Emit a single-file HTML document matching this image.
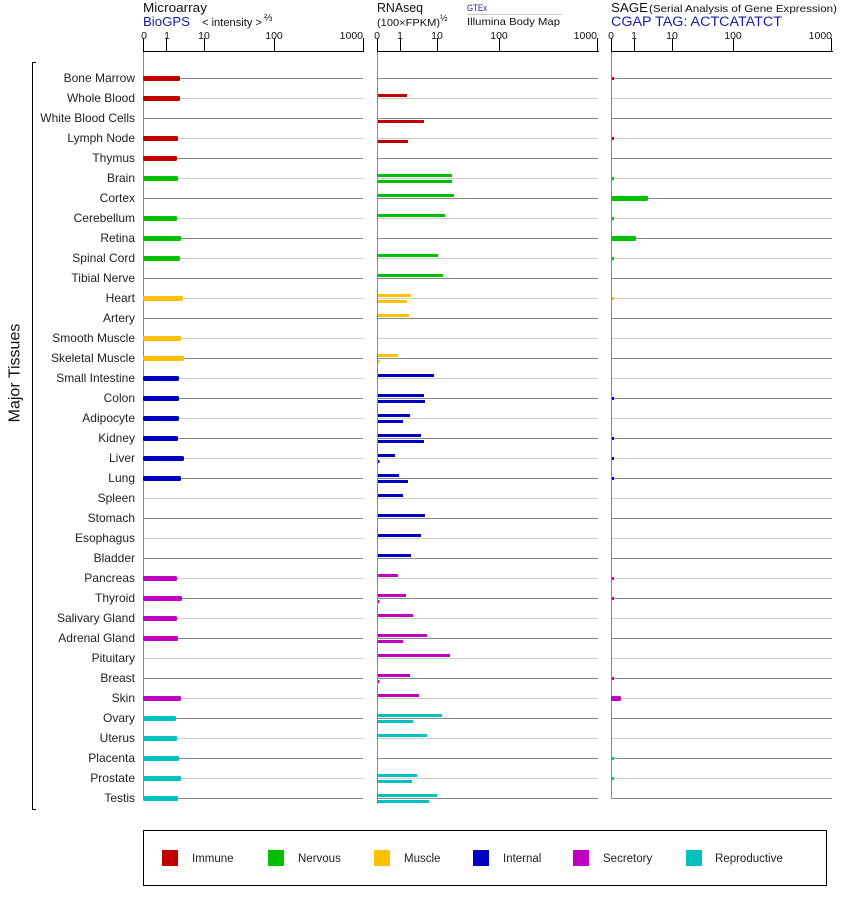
<!DOCTYPE html>
<html><head><meta charset="utf-8"><style>
html,body{margin:0;padding:0;background:#fff;}
svg{display:block;}
svg text{font-family:"Liberation Sans",Arial,sans-serif;}
</style></head><body>
<svg width="842" height="900" viewBox="0 0 842 900" xmlns="http://www.w3.org/2000/svg" font-family="Liberation Sans, Arial, sans-serif">
<rect width="842" height="900" fill="#fff"/>
<!-- Headers -->
<g font-family="Liberation Sans, Arial, sans-serif">
<text x="143" y="12" font-size="13" fill="#111" textLength="64" lengthAdjust="spacingAndGlyphs">Microarray</text>
<text x="143" y="26" font-size="13" fill="#1a1aa6" textLength="47" lengthAdjust="spacingAndGlyphs">BioGPS</text>
<text x="202" y="26" font-size="11" fill="#111" textLength="60" lengthAdjust="spacingAndGlyphs">&lt; intensity &gt;</text>
<text x="264" y="21" font-size="10" fill="#111">⅔</text>
<text x="377" y="12" font-size="13" fill="#111" textLength="46" lengthAdjust="spacingAndGlyphs">RNAseq</text>
<text x="377" y="26" font-size="10.5" fill="#111" textLength="63" lengthAdjust="spacingAndGlyphs">(100×FPKM)</text>
<text x="440" y="21" font-size="9" fill="#111">½</text>
<text x="467" y="11" font-size="9" fill="#1a1aa6" textLength="20" lengthAdjust="spacingAndGlyphs">GTEx</text>
<line x1="467" y1="14.5" x2="562" y2="14.5" stroke="#c8c8c8" stroke-width="1"/>
<text x="467" y="25" font-size="10.5" fill="#111" textLength="93" lengthAdjust="spacingAndGlyphs">Illumina Body Map</text>
<text x="611" y="12" font-size="13" fill="#111" textLength="37" lengthAdjust="spacingAndGlyphs">SAGE</text>
<text x="649" y="12" font-size="10.5" fill="#111" textLength="188" lengthAdjust="spacingAndGlyphs">(Serial Analysis of Gene Expression)</text>
<text x="611" y="26" font-size="13.5" fill="#1a1aa6" textLength="171" lengthAdjust="spacingAndGlyphs">CGAP TAG: ACTCATATCT</text>
</g>

<!-- Axes top -->
<g stroke="#000" stroke-width="1" fill="none">
<path d="M143 51.5H364 M143.5 38V52 M166.5 38V52 M204.5 38V52 M274.5 38V52 M363.5 38V52"/>
<path d="M377 51.5H599 M377.5 38V52 M400.5 38V52 M437.5 38V52 M499.5 38V52 M597.5 38V52"/>
<path d="M611 51.5H833 M611.5 38V52 M634.5 38V52 M672.5 38V52 M733.5 38V52 M831.5 38V52"/>
</g>
<g font-size="10.5" fill="#111" text-anchor="middle" font-family="Liberation Sans, Arial, sans-serif">
<text x="144" y="39">0</text><text x="167" y="39">1</text><text x="204" y="39">10</text><text x="274" y="39">100</text><text x="363" y="39" text-anchor="end">1000</text>
<text x="377" y="39">0</text><text x="400" y="39">1</text><text x="437" y="39">10</text><text x="499" y="39">100</text><text x="597" y="39" text-anchor="end">1000</text>
<text x="611" y="39">0</text><text x="634" y="39">1</text><text x="672" y="39">10</text><text x="733" y="39">100</text><text x="832" y="39" text-anchor="end">1000</text>
</g>

<!-- Row lines -->
<path fill="none" stroke="#888" stroke-width="1" d="
M144 78.5H363M378 78.5H598M612 78.5H832
M144 118.5H363M378 118.5H598M612 118.5H832
M144 158.5H363M378 158.5H598M612 158.5H832
M144 198.5H363M378 198.5H598M612 198.5H832
M144 238.5H363M378 238.5H598M612 238.5H832
M144 278.5H363M378 278.5H598M612 278.5H832
M144 318.5H363M378 318.5H598M612 318.5H832
M144 358.5H363M378 358.5H598M612 358.5H832
M144 398.5H363M378 398.5H598M612 398.5H832
M144 438.5H363M378 438.5H598M612 438.5H832
M144 478.5H363M378 478.5H598M612 478.5H832
M144 518.5H363M378 518.5H598M612 518.5H832
M144 558.5H363M378 558.5H598M612 558.5H832
M144 598.5H363M378 598.5H598M612 598.5H832
M144 638.5H363M378 638.5H598M612 638.5H832
M144 678.5H363M378 678.5H598M612 678.5H832
M144 718.5H363M378 718.5H598M612 718.5H832
M144 758.5H363M378 758.5H598M612 758.5H832
M144 798.5H363M378 798.5H598M612 798.5H832"/>
<path fill="none" stroke="#cccccc" stroke-width="1" d="
M144 98.5H363M378 98.5H598M612 98.5H832
M144 138.5H363M378 138.5H598M612 138.5H832
M144 178.5H363M378 178.5H598M612 178.5H832
M144 218.5H363M378 218.5H598M612 218.5H832
M144 258.5H363M378 258.5H598M612 258.5H832
M144 298.5H363M378 298.5H598M612 298.5H832
M144 338.5H363M378 338.5H598M612 338.5H832
M144 378.5H363M378 378.5H598M612 378.5H832
M144 418.5H363M378 418.5H598M612 418.5H832
M144 458.5H363M378 458.5H598M612 458.5H832
M144 498.5H363M378 498.5H598M612 498.5H832
M144 538.5H363M378 538.5H598M612 538.5H832
M144 578.5H363M378 578.5H598M612 578.5H832
M144 618.5H363M378 618.5H598M612 618.5H832
M144 658.5H363M378 658.5H598M612 658.5H832
M144 698.5H363M378 698.5H598M612 698.5H832
M144 738.5H363M378 738.5H598M612 738.5H832
M144 778.5H363M378 778.5H598M612 778.5H832"/>

<!-- vertical axes -->
<path fill="none" stroke="#888" stroke-width="1" d="M143.5 52V800 M377.5 52V804 M611.5 52V799"/>

<!-- Microarray bars -->
<g>
<g fill="#c00000">
<rect x="143" y="76" width="37" height="5" rx="1.5"/>
<rect x="143" y="96" width="37" height="5" rx="1.5"/>
<rect x="143" y="136" width="35" height="5" rx="1.5"/>
<rect x="143" y="156" width="34" height="5" rx="1.5"/>
</g>
<g fill="#00c000">
<rect x="143" y="176" width="35" height="5" rx="1.5"/>
<rect x="143" y="216" width="34" height="5" rx="1.5"/>
<rect x="143" y="236" width="38" height="5" rx="1.5"/>
<rect x="143" y="256" width="37" height="5" rx="1.5"/>
</g>
<g fill="#ffc000">
<rect x="143" y="296" width="40" height="5" rx="1.5"/>
<rect x="143" y="336" width="38" height="5" rx="1.5"/>
<rect x="143" y="356" width="41" height="5" rx="1.5"/>
</g>
<g fill="#0000c0">
<rect x="143" y="376" width="36" height="5" rx="1.5"/>
<rect x="143" y="396" width="36" height="5" rx="1.5"/>
<rect x="143" y="416" width="36" height="5" rx="1.5"/>
<rect x="143" y="436" width="35" height="5" rx="1.5"/>
<rect x="143" y="456" width="41" height="5" rx="1.5"/>
<rect x="143" y="476" width="38" height="5" rx="1.5"/>
</g>
<g fill="#c000c0">
<rect x="143" y="576" width="34" height="5" rx="1.5"/>
<rect x="143" y="596" width="39" height="5" rx="1.5"/>
<rect x="143" y="616" width="34" height="5" rx="1.5"/>
<rect x="143" y="636" width="35" height="5" rx="1.5"/>
<rect x="143" y="696" width="38" height="5" rx="1.5"/>
</g>
<g fill="#00c0c0">
<rect x="143" y="716" width="33" height="5" rx="1.5"/>
<rect x="143" y="736" width="34" height="5" rx="1.5"/>
<rect x="143" y="756" width="36" height="5" rx="1.5"/>
<rect x="143" y="776" width="38" height="5" rx="1.5"/>
<rect x="143" y="796" width="35" height="5" rx="1.5"/>
</g>
</g>

<!-- RNAseq bars -->
<g>
<g fill="#c00000">
<rect x="378" y="94" width="29" height="3"/>
<rect x="378" y="120" width="46" height="3"/>
<rect x="378" y="140" width="30" height="3"/>
</g>
<g fill="#00c000">
<rect x="378" y="174" width="74" height="3"/>
<rect x="378" y="180" width="74" height="3"/>
<rect x="378" y="194" width="76" height="3"/>
<rect x="378" y="214" width="67" height="3"/>
<rect x="378" y="254" width="60" height="3"/>
<rect x="378" y="274" width="65" height="3"/>
</g>
<g fill="#ffc000">
<rect x="378" y="294" width="33" height="3"/>
<rect x="378" y="300" width="29" height="3"/>
<rect x="378" y="314" width="31" height="3"/>
<rect x="378" y="354" width="20" height="3"/>
<rect x="378" y="360" width="1.5" height="3"/>
</g>
<g fill="#0000c0">
<rect x="378" y="374" width="56" height="3"/>
<rect x="378" y="394" width="46" height="3"/>
<rect x="378" y="400" width="47" height="3"/>
<rect x="378" y="414" width="32" height="3"/>
<rect x="378" y="420" width="25" height="3"/>
<rect x="378" y="434" width="43" height="3"/>
<rect x="378" y="440" width="46" height="3"/>
<rect x="378" y="454" width="17" height="3"/>
<rect x="378" y="460" width="1.5" height="3"/>
<rect x="378" y="474" width="21" height="3"/>
<rect x="378" y="480" width="30" height="3"/>
<rect x="378" y="494" width="25" height="3"/>
<rect x="378" y="514" width="47" height="3"/>
<rect x="378" y="534" width="43" height="3"/>
<rect x="378" y="554" width="33" height="3"/>
</g>
<g fill="#c000c0">
<rect x="378" y="574" width="20" height="3"/>
<rect x="378" y="594" width="28" height="3"/>
<rect x="378" y="600" width="1.5" height="3"/>
<rect x="378" y="614" width="35" height="3"/>
<rect x="378" y="634" width="49" height="3"/>
<rect x="378" y="640" width="25" height="3"/>
<rect x="378" y="654" width="72" height="3"/>
<rect x="378" y="674" width="32" height="3"/>
<rect x="378" y="680" width="1.5" height="3"/>
<rect x="378" y="694" width="41" height="3"/>
</g>
<g fill="#00c0c0">
<rect x="378" y="714" width="64" height="3"/>
<rect x="378" y="720" width="35" height="3"/>
<rect x="378" y="734" width="49" height="3"/>
<rect x="378" y="774" width="39" height="3"/>
<rect x="378" y="780" width="34" height="3"/>
<rect x="378" y="794" width="59" height="3"/>
<rect x="377" y="800" width="52" height="3"/>
</g>
</g>

<!-- SAGE bars -->
<g>
<g fill="#c00000">
<rect x="612" y="77" width="2" height="3"/>
<rect x="612" y="137" width="2" height="3"/>
</g>
<g fill="#00c000">
<rect x="612" y="177" width="2" height="3"/>
<rect x="611" y="196" width="37" height="5" rx="1.5"/>
<rect x="612" y="217" width="2" height="3"/>
<rect x="611" y="236" width="25" height="5" rx="1.5"/>
<rect x="612" y="257" width="2" height="3"/>
</g>
<g fill="#ffc000">
<rect x="612" y="297" width="2" height="3"/>
</g>
<g fill="#0000c0">
<rect x="612" y="397" width="2" height="3"/>
<rect x="612" y="437" width="2" height="3"/>
<rect x="612" y="457" width="2" height="3"/>
<rect x="612" y="477" width="2" height="3"/>
</g>
<g fill="#c000c0">
<rect x="612" y="577" width="2" height="3"/>
<rect x="612" y="597" width="2" height="3"/>
<rect x="612" y="677" width="2" height="3"/>
<rect x="611" y="696" width="10" height="5" rx="1.5"/>
</g>
<g fill="#00c0c0">
<rect x="612" y="757" width="2" height="3"/>
<rect x="612" y="777" width="2" height="3"/>
</g>
</g>

<!-- Row labels -->
<g font-size="12" fill="#222" text-anchor="end" font-family="Liberation Sans, Arial, sans-serif">
<text x="135" y="82">Bone Marrow</text>
<text x="135" y="102">Whole Blood</text>
<text x="135" y="122">White Blood Cells</text>
<text x="135" y="142">Lymph Node</text>
<text x="135" y="162">Thymus</text>
<text x="135" y="182">Brain</text>
<text x="135" y="202">Cortex</text>
<text x="135" y="222">Cerebellum</text>
<text x="135" y="242">Retina</text>
<text x="135" y="262">Spinal Cord</text>
<text x="135" y="282">Tibial Nerve</text>
<text x="135" y="302">Heart</text>
<text x="135" y="322">Artery</text>
<text x="135" y="342">Smooth Muscle</text>
<text x="135" y="362">Skeletal Muscle</text>
<text x="135" y="382">Small Intestine</text>
<text x="135" y="402">Colon</text>
<text x="135" y="422">Adipocyte</text>
<text x="135" y="442">Kidney</text>
<text x="135" y="462">Liver</text>
<text x="135" y="482">Lung</text>
<text x="135" y="502">Spleen</text>
<text x="135" y="522">Stomach</text>
<text x="135" y="542">Esophagus</text>
<text x="135" y="562">Bladder</text>
<text x="135" y="582">Pancreas</text>
<text x="135" y="602">Thyroid</text>
<text x="135" y="622">Salivary Gland</text>
<text x="135" y="642">Adrenal Gland</text>
<text x="135" y="662">Pituitary</text>
<text x="135" y="682">Breast</text>
<text x="135" y="702">Skin</text>
<text x="135" y="722">Ovary</text>
<text x="135" y="742">Uterus</text>
<text x="135" y="762">Placenta</text>
<text x="135" y="782">Prostate</text>
<text x="135" y="802">Testis</text>
</g>

<!-- Bracket -->
<path fill="none" stroke="#000" stroke-width="1" d="M36 62.5H32.5V809.5H36"/>
<text x="0" y="0" font-size="16" fill="#111" text-anchor="middle" font-family="Liberation Sans, Arial, sans-serif" transform="translate(19.5 373) rotate(-90)">Major Tissues</text>

<!-- Legend -->
<rect x="143.5" y="830.5" width="683" height="55" fill="none" stroke="#000" stroke-width="1"/>
<rect x="162" y="850" width="16" height="16" fill="#c00000"/>
<rect x="268" y="850" width="16" height="16" fill="#00c000"/>
<rect x="374" y="850" width="16" height="16" fill="#ffc000"/>
<rect x="473" y="850" width="16" height="16" fill="#0000c0"/>
<rect x="573" y="850" width="16" height="16" fill="#c000c0"/>
<rect x="686" y="850" width="16" height="16" fill="#00c0c0"/>
<g font-size="11.5" fill="#222" font-family="Liberation Sans, Arial, sans-serif">
<text x="192" y="862">Immune</text>
<text x="298" y="862">Nervous</text>
<text x="404" y="862">Muscle</text>
<text x="503" y="862">Internal</text>
<text x="603" y="862">Secretory</text>
<text x="715" y="862">Reproductive</text>
</g>
</svg>
</body></html>
